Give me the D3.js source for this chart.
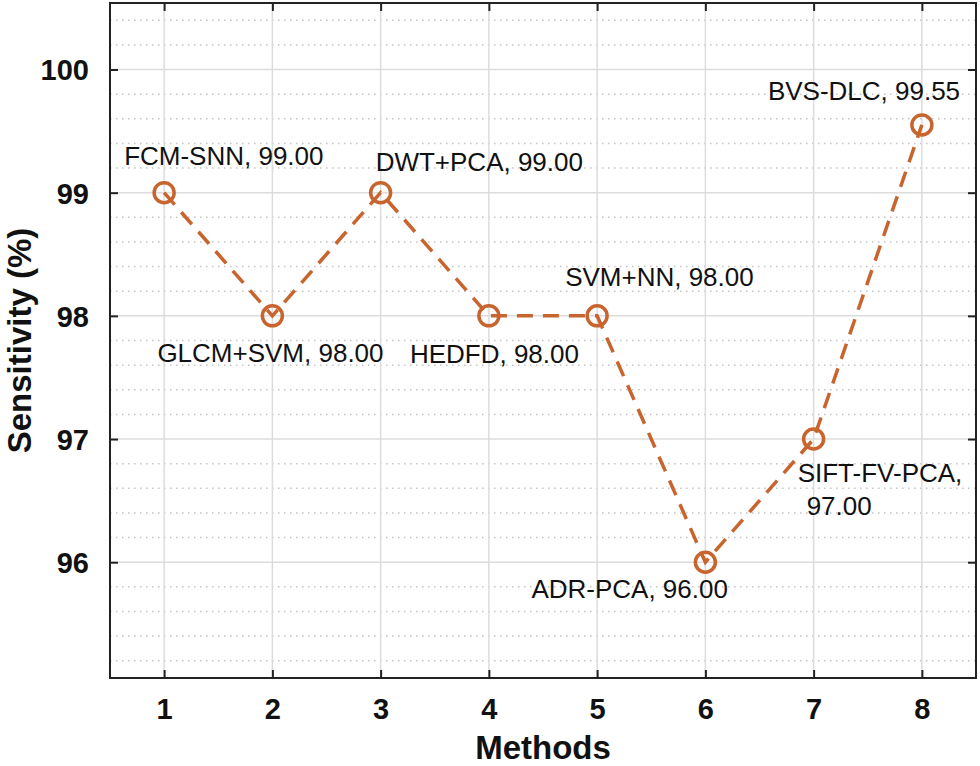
<!DOCTYPE html>
<html>
<head>
<meta charset="utf-8">
<script src="https://cdn.jsdelivr.net/npm/d3@7"></script>
<style>
  body { margin: 0; background: #fff; }
  svg { display: block; font-family: "Liberation Sans", Arial, sans-serif; }
</style>
</head>
<body>
<svg id="chart" width="980" height="766"></svg>
<script>
const methods = [1, 2, 3, 4, 5, 6, 7, 8];
const names = ["FCM-SNN", "GLCM+SVM", "DWT+PCA", "HEDFD", "SVM+NN", "ADR-PCA", "SIFT-FV-PCA", "BVS-DLC"];
const sensitivity = [99.0, 98.0, 99.0, 98.0, 98.0, 96.0, 97.0, 99.55];
const yTicks = [96, 97, 98, 99, 100];

// label placement relative to each point (pixels)
const labelPos = [
  { dx: -40, dy: -28 },
  { dx: -115, dy: 46 },
  { dx: -5, dy: -22 },
  { dx: -79, dy: 47 },
  { dx: -32, dy: -30 },
  { dx: -174, dy: 36 },
  { dx: -16, dy: 43, dy2: 76, dx2: -7 },
  { dx: -154, dy: -25 },
];

const color = "#c8642d";
const margin = { top: 3, right: 4, bottom: 88, left: 110 };
const svg = d3.select("#chart");
const width = +svg.attr("width") - margin.left - margin.right;
const height = +svg.attr("height") - margin.top - margin.bottom;

const x = d3.scaleLinear().domain([0.5, 8.5]).range([0, width]);
const y = d3.scaleLinear().domain([95.06, 100.54]).range([height, 0]);

const g = svg.append("g").attr("transform", `translate(${margin.left},${margin.top})`);

// minor dotted grid
const minor = d3.range(95.2, 100.5, 0.2).filter((v) => Math.abs(v - Math.round(v)) > 0.01);
g.append("g").selectAll("line").data(minor).join("line")
  .attr("x1", 0).attr("x2", width)
  .attr("y1", (d) => y(d)).attr("y2", (d) => y(d))
  .attr("stroke", "#c4c4c4").attr("stroke-width", 1.5)
  .attr("stroke-dasharray", "1.5,4.5");

// major grid
g.append("g").selectAll("line").data(yTicks).join("line")
  .attr("x1", 0).attr("x2", width)
  .attr("y1", (d) => y(d)).attr("y2", (d) => y(d))
  .attr("stroke", "#dcdcdc").attr("stroke-width", 1.5);
g.append("g").selectAll("line").data(methods).join("line")
  .attr("y1", 0).attr("y2", height)
  .attr("x1", (d) => x(d)).attr("x2", (d) => x(d))
  .attr("stroke", "#dcdcdc").attr("stroke-width", 1.5);

// axes
const xAxis = g.append("g").attr("transform", `translate(0,${height})`)
  .call(d3.axisBottom(x).tickValues(methods).tickSize(-8).tickPadding(20).tickFormat(d3.format("d")));
const xTop = g.append("g")
  .call(d3.axisTop(x).tickValues(methods).tickSize(-8).tickFormat(""));
const yAxis = g.append("g")
  .call(d3.axisLeft(y).tickValues(yTicks).tickSize(-8).tickPadding(21).tickFormat(d3.format("d")));
const yRight = g.append("g").attr("transform", `translate(${width},0)`)
  .call(d3.axisRight(y).tickValues(yTicks).tickSize(-8).tickFormat(""));

[xAxis, xTop, yAxis, yRight].forEach((a) => {
  a.select(".domain").remove();
  a.selectAll(".tick line").attr("stroke", "#222").attr("stroke-width", 2);
  a.selectAll(".tick text").attr("fill", "#111")
    .style("font-size", "29px").style("font-weight", "bold")
    .style("font-family", '"Liberation Sans", Arial, sans-serif');
});
yAxis.selectAll(".tick text").attr("dy", "0.36em");

g.append("rect").attr("width", width).attr("height", height)
  .attr("fill", "none").attr("stroke", "#222").attr("stroke-width", 2);

// series
const pts = methods.map((m, i) => ({ x: m, y: sensitivity[i], name: names[i] }));
const line = d3.line().x((d) => x(d.x)).y((d) => y(d.y));
g.append("path").datum(pts).attr("d", line)
  .attr("fill", "none").attr("stroke", color).attr("stroke-width", 3.5)
  .attr("stroke-dasharray", "16,10");
g.append("g").selectAll("circle").data(pts).join("circle")
  .attr("cx", (d) => x(d.x)).attr("cy", (d) => y(d.y)).attr("r", 10)
  .attr("fill", "none").attr("stroke", color).attr("stroke-width", 3.5);

// annotations
const labels = g.append("g").style("font-size", "26px").attr("fill", "#111");
pts.forEach((d, i) => {
  const p = labelPos[i];
  const val = d.y.toFixed(2);
  if (p.dy2 !== undefined) {
    labels.append("text").attr("x", x(d.x) + p.dx).attr("y", y(d.y) + p.dy).text(`${d.name},`);
    labels.append("text").attr("x", x(d.x) + p.dx2).attr("y", y(d.y) + p.dy2).text(val);
  } else {
    labels.append("text").attr("x", x(d.x) + p.dx).attr("y", y(d.y) + p.dy).text(`${d.name}, ${val}`);
  }
});

// axis titles
svg.append("text")
  .attr("x", margin.left + width / 2).attr("y", 759)
  .attr("text-anchor", "middle").style("font-size", "33px").style("font-weight", "bold")
  .attr("fill", "#111").text("Methods");
svg.append("text")
  .attr("transform", `translate(31,${margin.top + height / 2}) rotate(-90)`)
  .attr("text-anchor", "middle").style("font-size", "33px").style("font-weight", "bold")
  .attr("fill", "#111").text("Sensitivity (%)");
</script>
</body>
</html>
